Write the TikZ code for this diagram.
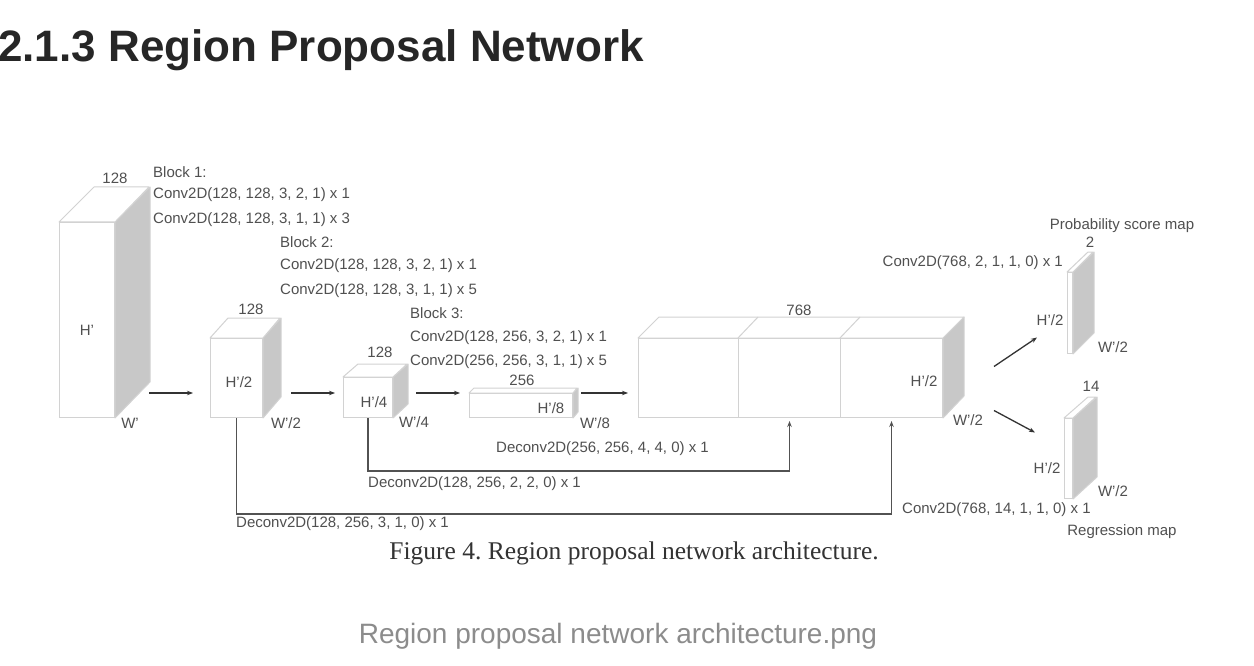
\documentclass[tikz,border=0pt]{standalone}
\usepackage{fontspec}
\setmainfont{Liberation Sans}
\newfontfamily\capserif{Liberation Serif}
\usetikzlibrary{arrows.meta,calc}
\definecolor{txt}{HTML}{505050}
\definecolor{edgec}{HTML}{D2D2D2}
\definecolor{sidegray}{HTML}{C8C8C8}
\definecolor{arrc}{HTML}{333333}
\frenchspacing
\newcommand\mycuboid[7]{%
  \node[face, minimum width=#4pt, minimum height=#5pt, anchor=north west] (#1) at (#2,#3) {};
  \draw[edge, fill=sidegray] (#1.north east) -- ++(#6,-#7) -- ++(0,#5) -- (#1.south east) -- cycle;
  \draw[edge, fill=white] (#1.north west) -- ++(#6,-#7) -- ++(#4,0) -- (#1.north east) -- cycle;
}
\begin{document}
\begin{tikzpicture}[x=1pt,y=-1pt,
  face/.style={draw=edgec, line width=1pt, fill=white, inner sep=0pt, rectangle},
  edge/.style={draw=edgec, line width=1pt, line join=round},
  lbl/.style={text=txt, font=\fontsize{15}{17}\selectfont, inner sep=0pt},
  lblw/.style={lbl, anchor=west},
  arr/.style={draw=arrc, line width=1.3pt, -{Stealth[length=6pt,width=4.5pt]}},
  skip/.style={draw=arrc!85, line width=1.2pt, -{Stealth[length=6pt,width=4.5pt]}}
]
\useasboundingbox (0,0) rectangle (1254,666);
\fill[white] (0,0) rectangle (1254,666);

% title
\node[anchor=base west, inner sep=0pt, text=black!85, font=\fontsize{44}{48}\selectfont\bfseries] (title) at (-2,62) {2.1.3 Region Proposal Network};

% cuboids
\mycuboid{b1}{59}{222}{55}{195}{35}{35}
\mycuboid{b2}{210}{338}{52}{79}{18}{20}
\mycuboid{b3}{343}{377}{49}{40}{15}{13}
\mycuboid{b4}{469}{393}{103}{24}{5}{5}

% big concatenated block
\node[face, minimum width=100pt, minimum height=79pt, anchor=north west] (s1) at (638,338) {};
\node[face, minimum width=102pt, minimum height=79pt, anchor=north west] (s2) at (738,338) {};
\node[face, minimum width=102pt, minimum height=79pt, anchor=north west] (s3) at (840,338) {};
\draw[edge, fill=sidegray] (s3.north east) -- ++(21,-21) -- ++(0,79) -- (s3.south east) -- cycle;
\draw[edge, fill=white] (s1.north west) -- ++(21,-21) -- ($(s3.north east)+(21,-21)$) -- (s3.north east) -- cycle;
\draw[edge] (s2.north west) -- ++(20,-21);
\draw[edge] (s3.north west) -- ++(20,-21);

% output maps
\mycuboid{pm}{1067}{272}{5}{81}{21}{20}
\mycuboid{rm}{1064}{418}{8}{80}{24}{21}

% labels box 1
\node[lbl] (l1a) at (115,178) {128};
\node[lbl] (l1b) at (87,330) {H’};
\node[lbl] (l1c) at (130,423) {W’};
\node[lblw] (k1a) at (153,172) {Block 1:};
\node[lblw] (k1b) at (153,195) {Conv2D(128, 128, 3, 2, 1) x 1};
\node[lblw] (k1c) at (153,220) {Conv2D(128, 128, 3, 1, 1) x 3};
% box 2
\node[lbl] (l2a) at (251,309) {128};
\node[lbl] (l2b) at (239,382) {H’/2};
\node[lbl] (l2c) at (286,423) {W’/2};
\node[lblw] (k2a) at (280,242) {Block 2:};
\node[lblw] (k2b) at (280,266) {Conv2D(128, 128, 3, 2, 1) x 1};
\node[lblw] (k2c) at (280,291) {Conv2D(128, 128, 3, 1, 1) x 5};
% box 3
\node[lbl] (l3a) at (380,352) {128};
\node[lbl] (l3b) at (374,402) {H’/4};
\node[lbl] (l3c) at (414,422) {W’/4};
\node[lblw] (k3a) at (410,313) {Block 3:};
\node[lblw] (k3b) at (410,338) {Conv2D(128, 256, 3, 2, 1) x 1};
\node[lblw] (k3c) at (410,362) {Conv2D(256, 256, 3, 1, 1) x 5};
% box 4
\node[lbl] (l4a) at (522,380) {256};
\node[lbl] (l4b) at (551,408) {H’/8};
\node[lbl] (l4c) at (595,423) {W’/8};
% big
\node[lbl] (l5a) at (799,310) {768};
\node[lbl] (l5b) at (924,381) {H’/2};
\node[lbl] (l5c) at (968,420) {W’/2};
% prob map
\node[lbl] (l6a) at (1122,226) {Probability score map};
\node[lbl] (l6b) at (1090,242) {2};
\node[lbl] (l6c) at (1050,320) {H’/2};
\node[lbl] (l6d) at (1113,347) {W’/2};
\node[lbl, anchor=east] (l6e) at (1063,263) {Conv2D(768, 2, 1, 1, 0) x 1};
% reg map
\node[lbl] (l7a) at (1091,386) {14};
\node[lbl] (l7b) at (1047,468) {H’/2};
\node[lbl] (l7c) at (1113,491) {W’/2};
\node[lblw] (l7d) at (902,510) {Conv2D(768, 14, 1, 1, 0) x 1};
\node[lbl] (l7e) at (1122,532) {Regression map};
% deconv labels
\node[lblw] (d1) at (496,449) {Deconv2D(256, 256, 4, 4, 0) x 1};
\node[lblw] (d2) at (368,484) {Deconv2D(128, 256, 2, 2, 0) x 1};
\node[lblw] (d3) at (236,524) {Deconv2D(128, 256, 3, 1, 0) x 1};

% main arrows
\draw[arr] ([xshift=34pt,yshift=25pt]b1.south east) -- ([xshift=-17pt,yshift=25pt]b2.south west);
\draw[arr] ([xshift=28pt,yshift=25pt]b2.south east) -- ([xshift=-8pt,yshift=25pt]b3.south west);
\draw[arr] ([xshift=23pt,yshift=25pt]b3.south east) -- ([xshift=-9pt,yshift=25pt]b4.south west);
\draw[arr] ([xshift=8pt,yshift=25pt]b4.south east) -- ([xshift=-10pt,yshift=25pt]s1.south west);
\draw[arr] ([xshift=51pt,yshift=11.5pt]s3.east) -- ([xshift=-30pt,yshift=-24.5pt]pm.west);
\draw[arr] ([xshift=51pt,yshift=-32.5pt]s3.east) -- ([xshift=-29pt,yshift=26pt]rm.west);

% skip connections
\draw[skip] (b3.south) -- ++(0,53) -| ([yshift=-3pt]s2.south);
\draw[skip] (b2.south) -- ++(0,96) -| ([yshift=-3pt]s3.south);

% captions
\node[inner sep=0pt, text=black!80, font=\capserif\fontsize{25.5}{28}\selectfont] (cap) at (634,553) {Figure 4. Region proposal network architecture.};
\node[inner sep=0pt, text=black!45, font=\fontsize{28}{32}\selectfont] (fname) at (618,636) {Region proposal network architecture.png};
\end{tikzpicture}
\end{document}
